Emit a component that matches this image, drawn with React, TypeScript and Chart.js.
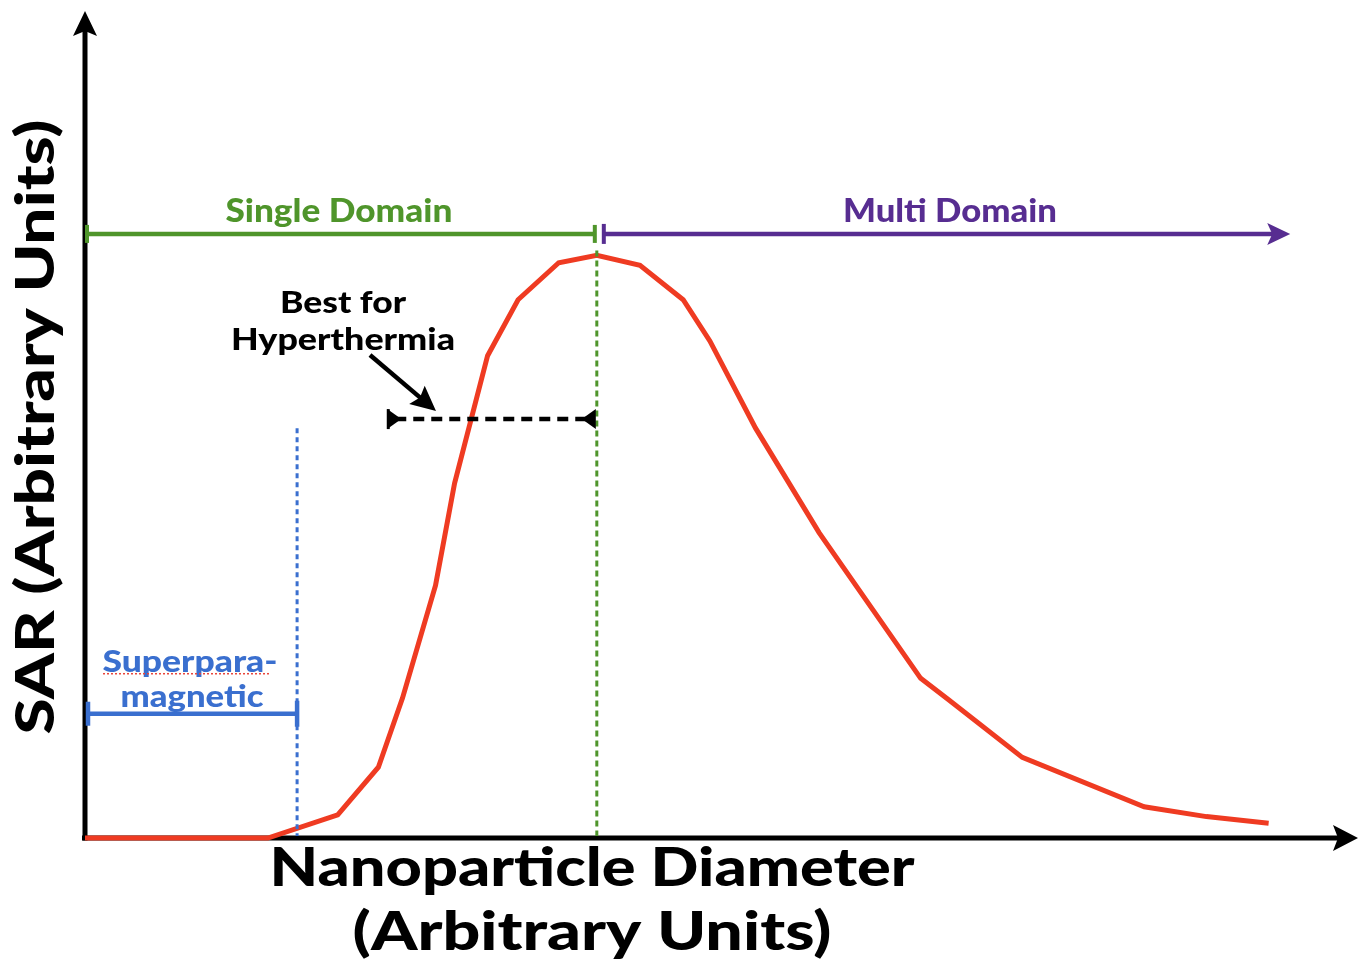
import React, { useEffect, useRef } from "react";
import { Chart, registerables } from "chart.js";
Chart.register(...registerables);

// Nanoparticle diameter (arbitrary units) and SAR (arbitrary units)
const diameters = [0, 14.4, 19.9, 23.1, 25.0, 27.6, 29.1, 31.7, 34.1, 37.3, 40.3, 43.7, 47.1, 49.2, 52.8, 57.8, 65.8, 68.0, 73.8, 83.4, 88.3, 93.2];
const sarValues = [0, 0, 2.8, 8.6, 17.0, 30.7, 43.1, 58.6, 65.4, 69.9, 70.8, 69.6, 65.4, 60.4, 49.8, 37.1, 19.4, 16.8, 9.8, 3.8, 2.6, 1.8];

// Region limits (x, arbitrary units)
const spmLimit = 16.7;
const singleDomainLimit = 40.3;
const multiDomainEnd = 94.9;
const hyperStart = 23.8;

// Annotation levels (y, arbitrary units)
const domainBarLevel = 73.4;
const hyperLevel = 50.9;
const spmBarLevel = 15.1;
const spmLineTop = 49.8;
const sdLineTop = 71.4;

const xTitleLines = ["Nanoparticle Diameter", "(Arbitrary Units)"];
const yTitle = "SAR (Arbitrary Units)";
const singleLabel = "Single Domain";
const multiLabel = "Multi Domain";
const hyperLines = ["Best for", "Hyperthermia"];
const spmLines = ["Superpara-", "magnetic"];

const RED = "#ef3b22";
const GREEN = "#4f952b";
const PURPLE = "#572d91";
const BLUE = "#3a6fcf";
const FONT = "Lato";

// draw text with a given cap height, stretched to a given width
function fitText(ctx: CanvasRenderingContext2D, text: string, cx: number, by: number, width: number, capH: number, color: string) {
  const size = capH / 0.72;
  ctx.save();
  ctx.font = `900 ${size}px ${FONT}`;
  const w = ctx.measureText(text).width;
  ctx.fillStyle = color;
  ctx.textAlign = "center";
  ctx.textBaseline = "alphabetic";
  ctx.translate(cx, by);
  ctx.scale(width / w, 1);
  ctx.fillText(text, 0, 0);
  ctx.restore();
}

function arrowHead(ctx: CanvasRenderingContext2D, tipX: number, tipY: number, angle: number, len: number, half: number, notch: number, color: string) {
  ctx.save();
  ctx.translate(tipX, tipY);
  ctx.rotate(angle);
  ctx.beginPath();
  ctx.moveTo(0, 0);
  ctx.lineTo(-len, -half);
  ctx.lineTo(-len + notch, 0);
  ctx.lineTo(-len, half);
  ctx.closePath();
  ctx.fillStyle = color;
  ctx.fill();
  ctx.restore();
}

function line(ctx: CanvasRenderingContext2D, x1: number, y1: number, x2: number, y2: number, color: string, w: number, dash: number[] = []) {
  ctx.save();
  ctx.beginPath();
  ctx.setLineDash(dash);
  ctx.moveTo(x1, y1);
  ctx.lineTo(x2, y2);
  ctx.strokeStyle = color;
  ctx.lineWidth = w;
  ctx.lineCap = "butt";
  ctx.stroke();
  ctx.restore();
}

const axesPlugin = {
  id: "axesArrows",
  beforeDatasetsDraw(chart: any) {
    const ctx: CanvasRenderingContext2D = chart.ctx;
    const x = chart.scales.x;
    const y = chart.scales.y;
    const x0 = x.getPixelForValue(0);
    const y0 = y.getPixelForValue(0);
    // y axis
    line(ctx, x0, y0 + 2.5, x0, 30, "#000", 5);
    arrowHead(ctx, x0, 11, -Math.PI / 2, 25, 12, 5, "#000");
    // x axis
    line(ctx, x0 - 3, y0, 1340, y0, "#000", 5);
    arrowHead(ctx, 1358, y0, 0, 25, 13, 5, "#000");
  },
};

const annotationPlugin = {
  id: "annotations",
  afterDatasetsDraw(chart: any) {
    const ctx: CanvasRenderingContext2D = chart.ctx;
    const xs = chart.scales.x;
    const ys = chart.scales.y;
    const px = (v: number) => xs.getPixelForValue(v);
    const py = (v: number) => ys.getPixelForValue(v);
    const x0 = px(0);
    const y0 = py(0);

    // vertical dotted limits
    line(ctx, px(spmLimit), py(spmLineTop), px(spmLimit), y0 - 2, BLUE, 3, [5, 4]);
    line(ctx, px(singleDomainLimit), py(sdLineTop), px(singleDomainLimit), y0 - 2, GREEN, 3, [6, 4]);

    // single domain bar
    const dy = py(domainBarLevel);
    line(ctx, x0 + 1, dy, px(singleDomainLimit) - 2, dy, GREEN, 4.5);
    line(ctx, x0 + 2, dy - 9, x0 + 2, dy + 9, GREEN, 4);
    line(ctx, px(singleDomainLimit) - 2, dy - 9, px(singleDomainLimit) - 2, dy + 9, GREEN, 4);
    fitText(ctx, singleLabel, (x0 + px(singleDomainLimit)) / 2 - 2, dy - 12, 227, 23, GREEN);

    // multi domain bar
    const mStart = px(singleDomainLimit) + 7;
    const mEnd = px(multiDomainEnd);
    line(ctx, mStart, dy, mEnd - 15, dy, PURPLE, 4.5);
    line(ctx, mStart, dy - 10, mStart, dy + 10, PURPLE, 4);
    arrowHead(ctx, mEnd, dy, 0, 23, 11, 5, PURPLE);
    fitText(ctx, multiLabel, 950, dy - 12, 214, 23, PURPLE);

    // superparamagnetic bar
    const sy = py(spmBarLevel);
    line(ctx, x0 + 3, sy, px(spmLimit), sy, BLUE, 4.5);
    line(ctx, x0 + 3, sy - 12, x0 + 3, sy + 12, BLUE, 4.5);
    line(ctx, px(spmLimit), sy - 13, px(spmLimit), sy + 13, BLUE, 4.5);
    fitText(ctx, spmLines[0], 190, sy - 42, 175, 22, BLUE);
    fitText(ctx, spmLines[1], 192, sy - 7, 143, 22, BLUE);
    line(ctx, 103, sy - 40, 270, sy - 40, "#e8453c", 1.5, [2, 2]);

    // hyperthermia range
    const hy = py(hyperLevel);
    const hx1 = px(hyperStart);
    const hx2 = px(singleDomainLimit) - 1;
    line(ctx, hx1 + 8, hy, hx2 - 8, hy, "#000", 4.5, [11, 7]);
    ctx.fillStyle = "#000";
    ctx.beginPath();
    ctx.moveTo(hx1, hy - 10);
    ctx.lineTo(hx1 + 14, hy);
    ctx.lineTo(hx1, hy + 10);
    ctx.closePath();
    ctx.fill();
    line(ctx, hx1 + 1, hy - 10, hx1 + 1, hy + 10, "#000", 3);
    ctx.beginPath();
    ctx.moveTo(hx2, hy - 10);
    ctx.lineTo(hx2 - 14, hy);
    ctx.lineTo(hx2, hy + 10);
    ctx.closePath();
    ctx.fill();
    fitText(ctx, hyperLines[0], 343, 313, 126, 22, "#000");
    fitText(ctx, hyperLines[1], 343, 350, 224, 22, "#000");

    // pointer arrow
    const ax1 = 370, ay1 = 355, ax2 = 436, ay2 = 411;
    const ang = Math.atan2(ay2 - ay1, ax2 - ax1);
    line(ctx, ax1, ay1, ax2 - 18 * Math.cos(ang), ay2 - 18 * Math.sin(ang), "#000", 4.5);
    arrowHead(ctx, ax2, ay2, ang, 25, 12, 4, "#000");

    // axis titles
    fitText(ctx, xTitleLines[0], 592, 886, 645, 38, "#000");
    fitText(ctx, xTitleLines[1], 592, 950, 479, 38, "#000");
    ctx.save();
    ctx.translate(54, 427);
    ctx.rotate(-Math.PI / 2);
    fitText(ctx, yTitle, 0, 0, 615, 38, "#000");
    ctx.restore();
  },
};

export default function App() {
  const ref = useRef<HTMLCanvasElement>(null);
  useEffect(() => {
    if (!ref.current) return;
    const chart = new Chart(ref.current, {
      type: "line",
      data: {
        datasets: [
          {
            data: diameters.map((d, i) => ({ x: d, y: sarValues[i] })),
            borderColor: RED,
            borderWidth: 5,
            pointRadius: 0,
            tension: 0,
            fill: false,
            clip: false as any,
          },
        ],
      },
      options: {
        animation: false,
        responsive: false,
        devicePixelRatio: 1,
        layout: { padding: { left: 85, right: 8, top: 15, bottom: 126 } },
        plugins: { legend: { display: false }, tooltip: { enabled: false } },
        scales: {
          x: { type: "linear", min: 0, max: 100, display: false },
          y: { type: "linear", min: 0, max: 100, display: false },
        },
      },
      plugins: [axesPlugin, annotationPlugin],
    });
    return () => chart.destroy();
  }, []);
  return (
    <div style={{ position: "fixed", left: 0, top: 0, width: 1363, height: 964, background: "#fff" }}>
      <canvas ref={ref} width={1363} height={964} style={{ width: 1363, height: 964 }} />
    </div>
  );
}
